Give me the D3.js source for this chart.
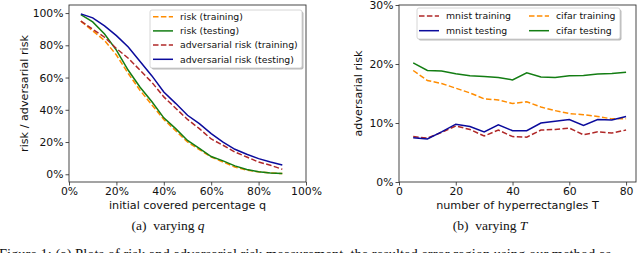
<!DOCTYPE html>
<html>
<head>
<meta charset="utf-8">
<script src="https://cdnjs.cloudflare.com/ajax/libs/d3/7.8.5/d3.min.js"></script>
<style>
  body { margin: 0; background: #fff; }
  svg { display: block; }
  text { font-family: "DejaVu Sans", sans-serif; fill: #111; }
  .cap { font-family: "Liberation Serif", "Times New Roman", serif; }
</style>
</head>
<body>
<svg id="fig" width="640" height="253"></svg>
<script>
// (a) varying q
const qValues = [0.05, 0.10, 0.15, 0.20, 0.25, 0.30, 0.35, 0.40, 0.45, 0.50, 0.55, 0.60, 0.65, 0.70, 0.75, 0.80, 0.85, 0.90];
const riskTrain   = [0.95, 0.89, 0.83, 0.74, 0.625, 0.52, 0.43, 0.34, 0.27, 0.20, 0.153, 0.107, 0.076, 0.045, 0.025, 0.015, 0.008, 0.004];
const riskTest    = [0.99, 0.945, 0.87, 0.77, 0.645, 0.54, 0.45, 0.35, 0.283, 0.21, 0.16, 0.11, 0.083, 0.052, 0.029, 0.015, 0.008, 0.005];
const advTrain    = [0.95, 0.90, 0.85, 0.78, 0.72, 0.645, 0.57, 0.48, 0.41, 0.34, 0.283, 0.219, 0.18, 0.138, 0.107, 0.076, 0.056, 0.031];
const advTest     = [0.995, 0.97, 0.92, 0.86, 0.79, 0.70, 0.61, 0.51, 0.44, 0.366, 0.314, 0.252, 0.20, 0.155, 0.124, 0.097, 0.076, 0.058];
const qTicks = [0, 0.2, 0.4, 0.6, 0.8, 1.0];
const riskTicks = [0, 0.2, 0.4, 0.6, 0.8, 1.0];

// (b) varying T
const tValues = [5, 10, 15, 20, 25, 30, 35, 40, 45, 50, 55, 60, 65, 70, 75, 80];
const mnistTrain = [0.077, 0.0745, 0.084, 0.095, 0.089, 0.078, 0.088, 0.077, 0.076, 0.088, 0.089, 0.0915, 0.080, 0.085, 0.083, 0.088];
const mnistTest  = [0.075, 0.073, 0.085, 0.098, 0.094, 0.085, 0.097, 0.087, 0.087, 0.100, 0.103, 0.106, 0.096, 0.106, 0.105, 0.111];
const cifarTrain = [0.189, 0.172, 0.167, 0.159, 0.151, 0.141, 0.139, 0.133, 0.136, 0.127, 0.121, 0.116, 0.114, 0.111, 0.107, 0.107];
const cifarTest  = [0.202, 0.189, 0.188, 0.1835, 0.180, 0.179, 0.177, 0.173, 0.185, 0.178, 0.177, 0.180, 0.1805, 0.183, 0.184, 0.186];
const tTicks = [0, 20, 40, 60, 80];
const advTicks = [0, 0.1, 0.2, 0.3];

const C = { orange: "#ff8c00", green: "#137d13", red: "#b02828", blue: "#0b0b9c" };
const DASH = "5.5,2.4";

const svg = d3.select("#fig");
const pct = d3.format(".0%");

function panel(opts) {
    const g = svg.append("g");
    const x = d3.scaleLinear().domain(opts.xDomain).range([opts.left, opts.right]);
    const y = d3.scaleLinear().domain(opts.yDomain).range([opts.bottom, opts.top]);

    //Series lines
    const line = d3.line()
        .x((d, i) => x(opts.xs[i]))
        .y(d => y(d));
    opts.series.forEach(s => {
        g.append("path")
            .attr("d", line(s.values))
            .attr("fill", "none")
            .attr("stroke", s.color)
            .attr("stroke-width", 1.5)
            .attr("stroke-dasharray", s.dash ? DASH : null);
    });

    //Axes
    const xAxis = g.append("g")
        .attr("transform", "translate(0," + opts.bottom + ")")
        .call(d3.axisBottom(x).tickValues(opts.xTicks).tickFormat(opts.xFormat).tickSize(3.5).tickPadding(2));
    const yAxis = g.append("g")
        .attr("transform", "translate(" + opts.left + ",0)")
        .call(d3.axisLeft(y).tickValues(opts.yTicks).tickFormat(pct).tickSize(3.5).tickPadding(2));
    [xAxis, yAxis].forEach(a => {
        a.select(".domain").remove();
        a.selectAll("line").attr("stroke", "#222").attr("stroke-width", 0.8);
        a.selectAll("text").attr("font-size", 10.8).attr("fill", "#111")
            .attr("font-family", "DejaVu Sans, sans-serif");
    });

    //Frame
    g.append("rect")
        .attr("x", opts.left).attr("y", opts.top)
        .attr("width", opts.right - opts.left).attr("height", opts.bottom - opts.top)
        .attr("fill", "none").attr("stroke", "#333").attr("stroke-width", 0.9);

    //Axis labels
    g.append("text")
        .attr("x", (opts.left + opts.right) / 2).attr("y", 208.5)
        .attr("text-anchor", "middle").attr("font-size", 11.2)
        .text(opts.xLabel);
    g.append("text")
        .attr("transform", "translate(" + opts.yLabelX + "," + (opts.top + opts.bottom) / 2 + ") rotate(-90)")
        .attr("text-anchor", "middle").attr("font-size", 11.2)
        .text(opts.yLabel);

    //Legend
    const L = opts.legend;
    g.append("rect")
        .attr("x", L.x + 1.5).attr("y", L.y + 1.5).attr("width", L.w).attr("height", L.h)
        .attr("rx", 2).attr("fill", "#bbb");
    g.append("rect")
        .attr("x", L.x).attr("y", L.y).attr("width", L.w).attr("height", L.h)
        .attr("rx", 2).attr("fill", "#fff").attr("stroke", "#ccc").attr("stroke-width", 0.8);
    opts.series.forEach((s, i) => {
        const col = i % L.cols, row = Math.floor(i / L.cols);
        const lx = L.x + L.pad + col * L.colW, ly = L.y + L.row0 + row * L.rowH;
        g.append("line")
            .attr("x1", lx).attr("x2", lx + 20).attr("y1", ly).attr("y2", ly)
            .attr("stroke", s.color).attr("stroke-width", 1.5)
            .attr("stroke-dasharray", s.dash ? DASH : null);
        g.append("text")
            .attr("x", lx + 27).attr("y", ly).attr("dy", "0.35em")
            .attr("font-size", 9.3)
            .text(s.name);
    });

    //Caption
    g.append("text").attr("class", "cap")
        .attr("x", opts.capX).attr("y", 230)
        .attr("text-anchor", "middle").attr("font-size", 13.5)
        .html(opts.caption);
}

panel({
    left: 69, right: 306, top: 5, bottom: 182,
    xDomain: [0, 1], yDomain: [-0.048, 1.05],
    xs: qValues, xTicks: qTicks, yTicks: riskTicks, xFormat: pct,
    xLabel: "initial covered percentage q", yLabel: "risk / adversarial risk", yLabelX: 28,
    series: [
        { name: "risk (training)", values: riskTrain, color: C.orange, dash: true },
        { name: "risk (testing)", values: riskTest, color: C.green, dash: false },
        { name: "adversarial risk (training)", values: advTrain, color: C.red, dash: true },
        { name: "adversarial risk (testing)", values: advTest, color: C.blue, dash: false }
    ],
    legend: { x: 150, y: 10, w: 152, h: 58, cols: 1, colW: 0, pad: 3, row0: 6.7, rowH: 14.2 },
    capX: 168,
    caption: '(a)&#160; varying <tspan font-style="italic">q</tspan>'
});

panel({
    left: 399, right: 636, top: 5, bottom: 182,
    xDomain: [0, 83.5], yDomain: [0, 0.3],
    xs: tValues, xTicks: tTicks, yTicks: advTicks, xFormat: d3.format("d"),
    xLabel: "number of hyperrectangles T", yLabel: "adversarial risk", yLabelX: 362,
    series: [
        { name: "mnist training", values: mnistTrain, color: C.red, dash: true },
        { name: "cifar training", values: cifarTrain, color: C.orange, dash: true },
        { name: "mnist testing", values: mnistTest, color: C.blue, dash: false },
        { name: "cifar testing", values: cifarTest, color: C.green, dash: false }
    ],
    legend: { x: 417, y: 8, w: 203, h: 31, cols: 2, colW: 110, pad: 2, row0: 8, rowH: 14.7 },
    capX: 490,
    caption: '(b)&#160; varying <tspan font-style="italic">T</tspan>'
});

//Figure caption, cut by the bottom edge as in the source page
svg.append("text").attr("class", "cap")
    .attr("x", -1).attr("y", 259)
    .attr("font-size", 14.5)
    .text("Figure 1: (a) Plots of risk and adversarial risk measurement, the resulted error region using our method as");
</script>
</body>
</html>
